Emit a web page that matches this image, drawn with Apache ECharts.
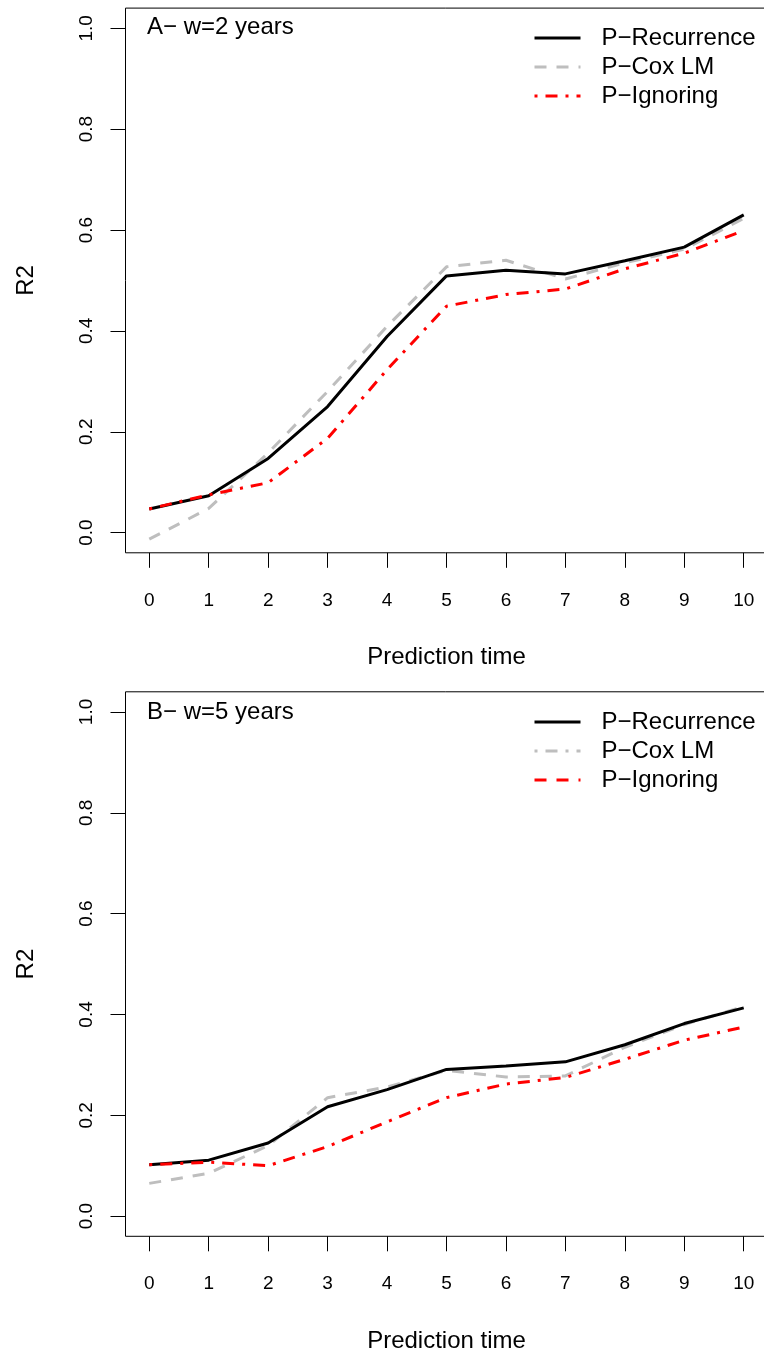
<!DOCTYPE html>
<html>
<head>
<meta charset="utf-8">
<script src="https://cdn.jsdelivr.net/npm/echarts@6/dist/echarts.min.js"></script>
<style>html,body{margin:0;padding:0;background:#fff}#c{width:764px;height:1353px}</style>
</head>
<body>
<div id="c"></div>
<script>
// ---- data ----
var predTime = [0, 1, 2, 3, 4, 5, 6, 7, 8, 9, 10];
var xTicks = [0, 1, 2, 3, 4, 5, 6, 7, 8, 9, 10];
var yTicks = [0, 0.2, 0.4, 0.6, 0.8, 1.0];

// Panel A: w = 2 years
var recurA = [0.047, 0.073, 0.147, 0.250, 0.389, 0.509, 0.520, 0.513, 0.539, 0.566, 0.630];
var coxA   = [-0.013, 0.048, 0.158, 0.280, 0.409, 0.527, 0.540, 0.503, 0.535, 0.562, 0.623];
var ignorA = [0.047, 0.075, 0.099, 0.187, 0.323, 0.449, 0.472, 0.483, 0.523, 0.554, 0.599];

// Panel B: w = 5 years
var recurB = [0.102, 0.111, 0.145, 0.217, 0.251, 0.291, 0.298, 0.306, 0.340, 0.382, 0.413];
var coxB   = [0.065, 0.085, 0.140, 0.235, 0.256, 0.289, 0.276, 0.278, 0.335, 0.380, 0.416];
var ignorB = [0.102, 0.107, 0.100, 0.138, 0.187, 0.235, 0.262, 0.275, 0.311, 0.349, 0.375];

var seriesNames = ['P\u2212Recurrence', 'P\u2212Cox LM', 'P\u2212Ignoring'];
var panelTitles = ['A\u2212 w=2 years', 'B\u2212 w=5 years'];
var xName = 'Prediction time';
var yName = 'R2';

// ---- styles ----
var FONT = 'Liberation Sans, Arial, Helvetica, sans-serif';
var styleRec = {color: '#000000', width: 3, type: 'solid'};
var styleCox = {color: '#bebebe', width: 3, type: [12, 10]};
var styleIgn = {color: '#ff0000', width: 3, type: [3, 8, 12, 8]};
var styleCoxLegB = {color: '#bebebe', width: 3, type: [3, 8, 12, 8]};
var styleIgnLegB = {color: '#ff0000', width: 3, type: [12, 10]};

function pairs(ys) { return predTime.map(function (x, i) { return [x, ys[i]]; }); }

function lineSeries(name, ys, style, idx, z) {
  return {
    type: 'line', name: name, xAxisIndex: idx, yAxisIndex: idx,
    data: ys ? pairs(ys) : [], symbol: 'none', showSymbol: false, silent: true, z: z,
    lineStyle: {color: style.color, width: style.width, type: style.type, cap: 'butt'},
    itemStyle: {color: style.color},
    animation: false
  };
}

function xAxisCfg(idx) {
  return {
    type: 'value', gridIndex: idx, min: -0.4, max: 10.4,
    name: xName, nameLocation: 'middle', nameGap: 93,
    nameTextStyle: {fontFamily: FONT, fontSize: 24, color: '#000'},
    axisLine: {show: false, onZero: false},
    axisTick: {show: true, length: 15, customValues: xTicks, lineStyle: {color: '#000', width: 1}},
    axisLabel: {customValues: xTicks, margin: 38, fontFamily: FONT, fontSize: 19, color: '#000',
      formatter: function (v) { return String(v); }},
    splitLine: {show: false}
  };
}
function yAxisCfg(idx) {
  return {
    type: 'value', gridIndex: idx, min: -0.04, max: 1.04,
    name: yName, nameLocation: 'middle', nameGap: 87.5, nameRotate: 90,
    nameTextStyle: {fontFamily: FONT, fontSize: 24, color: '#000'},
    axisLine: {show: false, onZero: false},
    axisTick: {show: true, length: 15, customValues: yTicks, lineStyle: {color: '#000', width: 1}},
    axisLabel: {customValues: yTicks, margin: 29, rotate: 90, fontFamily: FONT, fontSize: 19, color: '#000',
      formatter: function (v) { return v.toFixed(1); }},
    splitLine: {show: false}
  };
}

var legendText = {fontFamily: FONT, fontSize: 24, color: '#000', lineHeight: 24, padding: [0, 0, 0, 16]};
var legendCommon = {
  orient: 'vertical', left: 533, itemWidth: 46, itemHeight: 14, itemGap: 5,
  padding: 0, selectedMode: false, textStyle: legendText,
  itemStyle: {color: 'transparent', borderWidth: 0, opacity: 0},
  lineStyle: {width: 3}
};

var option = {
  backgroundColor: '#ffffff',
  animation: false,
  title: [
    {text: panelTitles[0], left: 147, top: 15, padding: 0,
      textStyle: {fontFamily: FONT, fontSize: 24, fontWeight: 'normal', color: '#000'}},
    {text: panelTitles[1], left: 147, top: 700, padding: 0,
      textStyle: {fontFamily: FONT, fontSize: 24, fontWeight: 'normal', color: '#000'}}
  ],
  legend: [
    Object.assign({data: seriesNames, top: 26}, legendCommon),
    Object.assign({data: seriesNames.map(function (n) { return n + ' (B)'; }), top: 710,
      formatter: function (n) { return n.replace(' (B)', ''); }}, legendCommon)
  ],
  grid: [
    {left: 125.5, top: 8.1, right: -3.5, height: 544.7, show: true, borderColor: '#000', borderWidth: 1,
      backgroundColor: 'transparent', outerBoundsMode: 'none', containLabel: false},
    {left: 125.5, top: 691.8, right: -3.5, height: 544.5, show: true, borderColor: '#000', borderWidth: 1,
      backgroundColor: 'transparent', outerBoundsMode: 'none', containLabel: false}
  ],
  xAxis: [xAxisCfg(0), xAxisCfg(1)],
  yAxis: [yAxisCfg(0), yAxisCfg(1)],
  series: [
    lineSeries(seriesNames[0], recurA, styleRec, 0, 3),
    lineSeries(seriesNames[1], coxA, styleCox, 0, 2),
    lineSeries(seriesNames[2], ignorA, styleIgn, 0, 4),
    lineSeries('B-rec', recurB, styleRec, 1, 3),
    lineSeries('B-cox', coxB, styleCox, 1, 2),
    lineSeries('B-ign', ignorB, styleIgn, 1, 4),
    lineSeries(seriesNames[0] + ' (B)', null, styleRec, 1, 1),
    lineSeries(seriesNames[1] + ' (B)', null, styleCoxLegB, 1, 1),
    lineSeries(seriesNames[2] + ' (B)', null, styleIgnLegB, 1, 1)
  ]
};

var chart = echarts.init(document.getElementById('c'), null, {renderer: 'canvas', width: 764, height: 1353});
chart.setOption(option);
</script>
</body>
</html>
